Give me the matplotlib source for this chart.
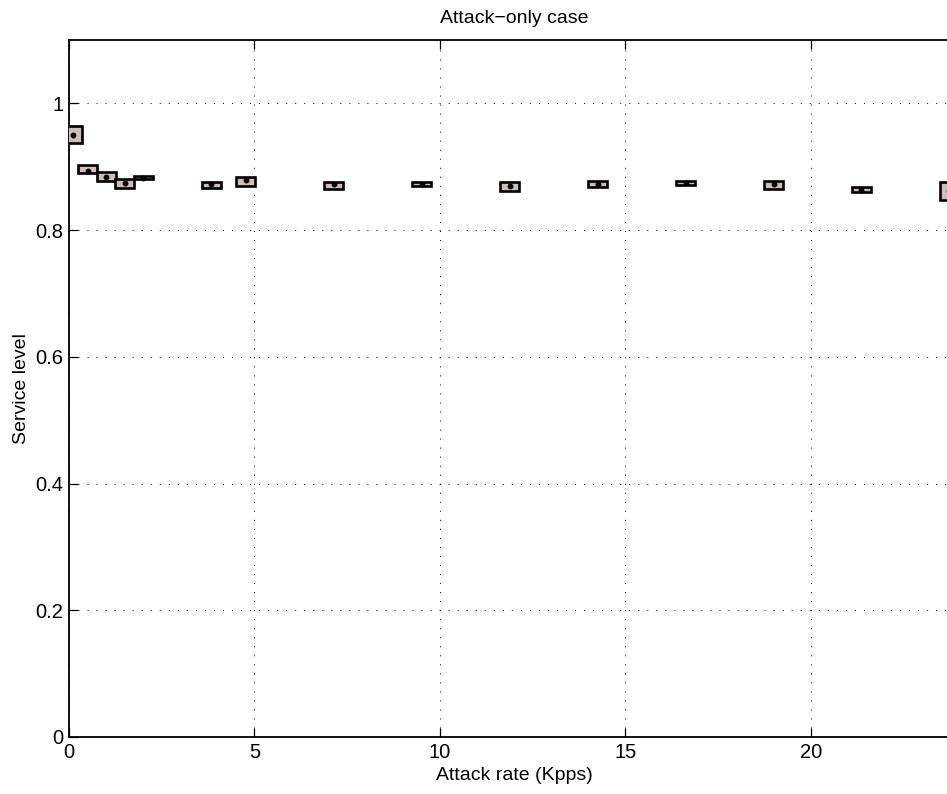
import matplotlib
matplotlib.use("Agg")
import matplotlib.pyplot as plt

# box positions and spread
rates = [0.1, 0.5, 1.0, 1.5, 2.0, 3.83, 4.77, 7.14, 9.51, 11.89, 14.26, 16.63, 19.0, 21.37, 23.74]
low = [0.937, 0.890, 0.877, 0.866, 0.880, 0.867, 0.870, 0.865, 0.869, 0.862, 0.868, 0.871, 0.865, 0.860, 0.848]
high = [0.965, 0.902, 0.892, 0.881, 0.886, 0.876, 0.884, 0.876, 0.876, 0.876, 0.877, 0.878, 0.877, 0.868, 0.876]
mid = [0.950, 0.894, 0.884, 0.874, 0.883, 0.873, 0.879, 0.873, 0.873, 0.869, 0.872, 0.875, 0.872, 0.864, 0.862]

yticks = [0, 0.2, 0.4, 0.6, 0.8, 1.0]
ytick_labels = ["0", "0.2", "0.4", "0.6", "0.8", "1"]
xticks = [0, 5, 10, 15, 20]

plt.rcParams["font.family"] = ["Liberation Sans", "DejaVu Sans"]
plt.rcParams["lines.scale_dashes"] = False

fig = plt.figure(figsize=(9.47, 7.94), dpi=100)
ax = fig.add_axes([0.0729, 0.0718, 0.9398, 0.8778])

heights = [h - l for h, l in zip(high, low)]
ax.bar(rates, heights, bottom=low, width=0.51, facecolor="#d4bbbb",
       edgecolor="black", linewidth=1.9, zorder=3)
ax.plot(rates, mid, "o", color="black", markersize=3.2, zorder=4)

ax.set_xlim(0, 24)
ax.set_ylim(0, 1.1)
ax.set_xticks(xticks)
ax.set_xticklabels([str(t) for t in xticks])
ax.set_yticks(yticks)
ax.set_yticklabels(ytick_labels)
ax.grid(True, color="black", linestyle=(0, (0.7, 5.8)), linewidth=0.7)
ax.set_axisbelow(True)

ax.tick_params(direction="in", length=6.5, width=0.9, labelsize=14.5,
               top=True, right=True, pad=4)
for s in ax.spines.values():
    s.set_linewidth(1.3)

ax.set_title("Attack\u2212only case", fontsize=14, pad=12)
ax.set_xlabel("Attack rate (Kpps)", fontsize=14, labelpad=4)
ax.set_ylabel("Service level", fontsize=14, labelpad=4)

fig.savefig("out.png", dpi=100)
